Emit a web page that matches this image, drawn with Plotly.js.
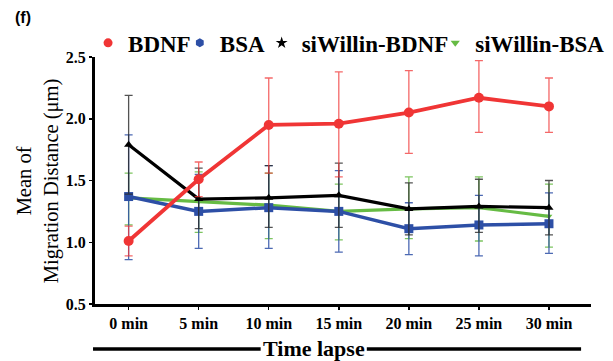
<!DOCTYPE html>
<html>
<head>
<meta charset="utf-8">
<script src="https://cdn.plot.ly/plotly-3.0.1.min.js"></script>
<style>html,body{margin:0;padding:0;background:#fff;}#chart{width:613px;height:361px;}</style>
</head>
<body>
<div id="chart"></div>
<script>
const categories = ["0 min", "5 min", "10 min", "15 min", "20 min", "25 min", "30 min"];

// Means
const bdnfMean        = [1.01, 1.51, 1.95, 1.96, 2.05, 2.17, 2.10];
const bsaMean         = [1.37, 1.25, 1.28, 1.25, 1.11, 1.14, 1.15];
const siBdnfMean      = [1.79, 1.35, 1.36, 1.38, 1.27, 1.29, 1.28];
const siBsaMean       = [1.36, 1.33, 1.30, 1.25, 1.27, 1.28, 1.21];

// Error bar tops and bottoms (absolute values)
const bdnfTop   = [1.13, 1.65, 2.33, 2.38, 2.39, 2.47, 2.33];
const bdnfBot   = [0.89, 1.37, 1.56, 1.53, 1.72, 1.89, 1.89];
const bsaTop    = [1.87, 1.55, 1.62, 1.58, 1.32, 1.38, 1.40];
const bsaBot    = [0.86, 0.95, 0.95, 0.92, 0.90, 0.89, 0.91];
const siBdnfTop = [2.19, 1.60, 1.62, 1.64, 1.48, 1.51, 1.50];
const siBdnfBot = [1.39, 1.11, 1.12, 1.12, 1.06, 1.08, 1.06];
const siBsaTop  = [1.56, 1.57, 1.56, 1.47, 1.53, 1.53, 1.47];
const siBsaBot  = [1.14, 1.08, 1.03, 1.02, 1.03, 1.01, 0.96];

const yTicks = [0.5, 1.0, 1.5, 2.0, 2.5];
const yTickText = ["0.5", "1.0", "1.5", "2.0", "2.5"];

const xIdx = categories.map((c, i) => i);

function mk(name, mean, top, bot, color, ecolor, symbol, msize, lw) {
  return {
    type: 'scatter', mode: 'lines+markers', name: name, showlegend: false,
    x: xIdx, y: mean,
    line: {color: color, width: lw},
    marker: {color: color, symbol: symbol, size: msize},
    error_y: {type: 'data', symmetric: false,
      array: top.map((t, i) => t - mean[i]),
      arrayminus: bot.map((b, i) => mean[i] - b),
      color: ecolor, thickness: 1.3, width: 4}
  };
}
// legend-only entries (marker symbol only, like the reference key)
function key(name, color, symbol, size, legendId) {
  return {type: 'scatter', mode: 'markers', name: name, legend: legendId,
    x: [null], y: [null], marker: {color: color, symbol: symbol, size: size}};
}

const traces = [
  mk('siWillin-BSA', siBsaMean, siBsaTop, siBsaBot, '#66bb44', 'rgba(102,187,68,0.85)', 'triangle-down', 6, 3.2),
  mk('BSA', bsaMean, bsaTop, bsaBot, '#2d4fa6', 'rgba(45,79,166,0.85)', 'square', 9, 3.5),
  mk('siWillin-BDNF', siBdnfMean, siBdnfTop, siBdnfBot, '#000000', 'rgba(40,40,40,0.8)', 'triangle-up', 8, 3.2),
  mk('BDNF', bdnfMean, bdnfTop, bdnfBot, '#f03535', 'rgba(240,53,53,0.75)', 'circle', 10, 3.8),
  key('BDNF', '#f03535', 'circle', 9, 'legend'),
  key('BSA', '#2d4fa6', 'hexagon', 9, 'legend2'),
  key('siWillin-BDNF', '#000000', 'star', 9, 'legend3'),
  key('siWillin-BSA', '#66bb44', 'triangle-down', 8, 'legend4')
];

const legFont = {family: 'Liberation Serif, serif', size: 23, color: '#000', weight: 'bold'};
function leg(x) {
  return {orientation: 'h', x: x, xanchor: 'left', y: 1.057, yanchor: 'middle',
    font: legFont, itemwidth: 30, bgcolor: 'rgba(0,0,0,0)'};
}

const layout = {
  width: 613, height: 361,
  margin: {l: 95, r: 3, t: 57, b: 57},
  paper_bgcolor: '#fff', plot_bgcolor: '#fff',
  showlegend: true,
  legend: leg(-0.014),
  legend2: leg(0.171),
  legend3: leg(0.336),
  legend4: leg(0.686),
  xaxis: {
    range: [-0.48, 6.6], tickmode: 'array', tickvals: xIdx, ticktext: categories,
    showline: true, linecolor: '#000', linewidth: 3, mirror: false,
    ticks: 'outside', ticklen: 3, tickwidth: 1.5, tickcolor: '#000',
    showgrid: false, zeroline: false,
    tickfont: {family: 'Liberation Serif, serif', size: 16, color: '#000', weight: 'bold'}
  },
  yaxis: {
    range: [0.5, 2.5], tickmode: 'array', tickvals: yTicks, ticktext: yTickText,
    showline: true, linecolor: '#000', linewidth: 3,
    ticks: 'outside', ticklen: 3, tickwidth: 1.5, tickcolor: '#000',
    showgrid: false, zeroline: false,
    tickfont: {family: 'Liberation Serif, serif', size: 16, color: '#000', weight: 'bold'}
  },
  annotations: [
    {text: '(f)', xref: 'paper', yref: 'paper', x: -0.165, y: 1.158, xanchor: 'left', yanchor: 'middle',
     showarrow: false, font: {family: 'Liberation Sans, Arial, sans-serif', size: 16, color: '#000', weight: 'bold'}},
    {text: 'Mean of<br>Migration Distance (μm)', xref: 'paper', yref: 'paper', x: -0.1145, y: 0.498,
     xanchor: 'center', yanchor: 'middle', textangle: -90, showarrow: false,
     font: {family: 'Liberation Serif, serif', size: 20.5, color: '#000'}},
    {text: 'Time lapse', xref: 'paper', yref: 'paper', x: 0.441, y: -0.182, xanchor: 'center', yanchor: 'middle',
     showarrow: false, font: {family: 'Liberation Serif, serif', size: 22, color: '#000', weight: 'bold'}}
  ],
  shapes: [
    {type: 'line', xref: 'paper', yref: 'paper', x0: -0.004, x1: 0.334, y0: -0.182, y1: -0.182, line: {color: '#000', width: 3.5}},
    {type: 'line', xref: 'paper', yref: 'paper', x0: 0.548, x1: 0.98, y0: -0.182, y1: -0.182, line: {color: '#000', width: 3.5}}
  ]
};

Plotly.newPlot('chart', traces, layout, {displayModeBar: false, staticPlot: true});
</script>
</body>
</html>
